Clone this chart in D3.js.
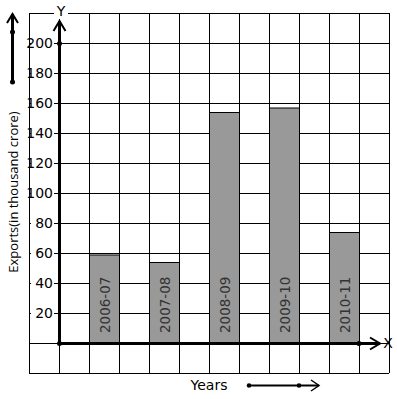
<!DOCTYPE html>
<html>
<head>
<meta charset="utf-8">
<script src="https://cdn.jsdelivr.net/npm/d3@7"></script>
<style>
html,body{margin:0;padding:0;background:#fff;}
svg{display:block;}
</style>
</head>
<body>
<script>
const categories = ["2006-07", "2007-08", "2008-09", "2009-10", "2010-11"];
const exportsValues = [59, 54, 154, 157, 74];
const yTickValues = [20, 40, 60, 80, 100, 120, 140, 160, 180, 200];
const yTitle = "Exports(in thousand crore)";
const xTitle = "Years";

const W = 397, H = 399;
const svg = d3.select("body").append("svg").attr("width", W).attr("height", H);

// scales
const y = d3.scaleLinear().domain([0, 200]).range([343, 43]);
const gx = d3.scaleLinear().domain([-1, 11]).range([29, 389]); // grid units
const x = d3.scaleBand().domain(categories).range([gx(1), gx(10)]).paddingInner(0.5).paddingOuter(0);

// grid
const grid = svg.append("g").attr("stroke", "#000").attr("stroke-width", 1);
d3.range(-20, 221, 20).forEach(v => {
  grid.append("line").attr("x1", gx(-1)).attr("x2", gx(11))
    .attr("y1", Math.round(y(v)) + 0.5).attr("y2", Math.round(y(v)) + 0.5);
});
d3.range(-1, 12, 1).forEach(u => {
  grid.append("line").attr("y1", y(-20)).attr("y2", y(220))
    .attr("x1", Math.round(gx(u)) + 0.5).attr("x2", Math.round(gx(u)) + 0.5);
});

// bars
svg.append("g").selectAll("rect").data(categories).join("rect")
  .attr("x", d => x(d) + 0.5)
  .attr("y", (d, i) => y(exportsValues[i]) + 0.5)
  .attr("width", x.bandwidth())
  .attr("height", (d, i) => y(0) - y(exportsValues[i]))
  .attr("fill", "#999999").attr("stroke", "#000").attr("stroke-width", 1);

// bar labels
svg.append("g").selectAll("text").data(categories).join("text")
  .attr("transform", d => `translate(${x(d) + x.bandwidth() / 2 + 6},${y(0) - 10}) rotate(-90)`)
  .attr("font-family", "DejaVu Sans, sans-serif").attr("font-size", 13.5)
  .attr("fill", "#333").text(d => d);

// y tick labels with white background
const yt = svg.append("g").selectAll("g").data(yTickValues).join("g")
  .attr("transform", d => `translate(0,${y(d)})`);
yt.append("rect").attr("x", 31).attr("y", -7).attr("width", 23).attr("height", 14).attr("fill", "#fff");
yt.append("text").attr("x", 53).attr("y", 5).attr("text-anchor", "end")
  .attr("font-family", "DejaVu Sans, sans-serif").attr("font-size", 14).attr("fill", "#000")
  .text(d => d);

// axes
const ax = svg.append("g").attr("stroke", "#000").attr("fill", "none");
ax.append("line").attr("x1", gx(0) + 0.5).attr("x2", gx(0) + 0.5).attr("y1", y(0)).attr("y2", 21).attr("stroke-width", 3);
ax.append("path").attr("d", `M${gx(0) - 5.5},31 L${gx(0) + 0.5},21 L${gx(0) + 6.5},31`).attr("stroke-width", 2);
ax.append("line").attr("x1", gx(0)).attr("x2", 380).attr("y1", y(0) + 0.5).attr("y2", y(0) + 0.5).attr("stroke-width", 3);
ax.append("path").attr("d", `M370,337.5 L380,343.5 L370,349.5`).attr("stroke-width", 2);
const dots = [[gx(0) + 0.5, y(0) + 0.5], [gx(0) + 0.5, y(200) + 0.5], [gx(10), y(0) + 0.5]];
svg.append("g").selectAll("circle").data(dots).join("circle")
  .attr("cx", d => d[0]).attr("cy", d => d[1]).attr("r", 2.5).attr("fill", "#000");

// axis letters
svg.append("rect").attr("x", 54).attr("y", 3).attr("width", 14).attr("height", 16).attr("fill", "#fff");
svg.append("text").attr("x", 61).attr("y", 16).attr("text-anchor", "middle")
  .attr("font-family", "DejaVu Sans, sans-serif").attr("font-size", 14).text("Y");
svg.append("text").attr("x", 388).attr("y", 348).attr("text-anchor", "middle")
  .attr("font-family", "DejaVu Sans, sans-serif").attr("font-size", 14).text("X");

// y title
svg.append("text").attr("transform", "translate(18,192) rotate(-90)").attr("text-anchor", "middle")
  .attr("font-family", "Open Sans, sans-serif").attr("font-size", 13).attr("fill", "#000").text(yTitle);

// left arrow
const la = svg.append("g").attr("stroke", "#000").attr("fill", "none");
la.append("line").attr("x1", 12.5).attr("x2", 12.5).attr("y1", 82).attr("y2", 14).attr("stroke-width", 3);
la.append("path").attr("d", "M7,23 L12.5,14 L18,23").attr("stroke-width", 2);
svg.append("circle").attr("cx", 12.5).attr("cy", 32).attr("r", 2.5);
svg.append("circle").attr("cx", 12.5).attr("cy", 82).attr("r", 2.5);

// x title + arrow
svg.append("text").attr("x", 209).attr("y", 390).attr("text-anchor", "middle")
  .attr("font-family", "DejaVu Sans, sans-serif").attr("font-size", 14).text(xTitle);
const ba = svg.append("g").attr("stroke", "#000").attr("fill", "none");
ba.append("line").attr("x1", 249).attr("x2", 319).attr("y1", 385.5).attr("y2", 385.5).attr("stroke-width", 2);
ba.append("path").attr("d", "M311,380 L319,385.5 L311,391").attr("stroke-width", 1.5);
svg.append("circle").attr("cx", 249).attr("cy", 385.5).attr("r", 2.3);
svg.append("circle").attr("cx", 299).attr("cy", 385.5).attr("r", 2.3);
</script>
</body>
</html>
